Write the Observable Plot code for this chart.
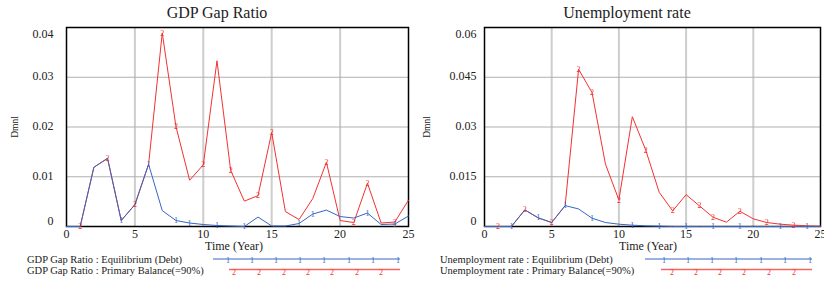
<!DOCTYPE html>
<html><head><meta charset="utf-8">
<script src="https://cdn.jsdelivr.net/npm/d3@7"></script>
<script src="https://cdn.jsdelivr.net/npm/@observablehq/plot@0.6"></script>
<style>
body{margin:0;background:#fff;}
#wrap{position:relative;width:824px;height:282px;overflow:hidden;font-family:"Liberation Serif",serif;}
#wrap svg, #wrap svg text, #wrap svg g { font-family: "Liberation Serif", serif !important; }
.panel{position:absolute;top:20px;}
#overlay{position:absolute;left:0;top:0;}
</style></head><body>
<div id="wrap"><div id="p1" class="panel" style="left:0"></div><div id="p2" class="panel" style="left:412px"></div><svg id="overlay" width="824" height="282"></svg></div>
<script>
const years = [0,1,2,3,4,5,6,7,8,9,10,11,12,13,14,15,16,17,18,19,20,21,22,23,24,25];
const xTicks = [0,5,10,15,20,25];

const gdpEquilibrium = [0,0,0.0119,0.0137,0.0012,0.0044,0.0125,0.0032,0.0012,0.0007,0.0004,0.0002,0.0001,0,0.0019,0.0001,0.0001,0.0006,0.0025,0.0033,0.0020,0.0017,0.0027,0.0004,0.0005,0.0021];
const gdpPrimary = [0,0,0.0119,0.0137,0.0012,0.0044,0.0125,0.0389,0.0201,0.0093,0.0124,0.0333,0.0113,0.0051,0.0062,0.0189,0.0030,0.0014,0.0056,0.0129,0.0012,0.0008,0.0087,0.0007,0.0009,0.0053];
const unEquilibrium = [0,0,0,0.0050,0.0026,0.0012,0.0063,0.0053,0.0025,0.0012,0.0007,0.0004,0.0002,0.0001,0,0,0,0,0,0,0,0,0,0,0,0];
const unPrimary = [0,0,0,0.0050,0.0026,0.0012,0.0063,0.0474,0.0404,0.0188,0.0080,0.0331,0.0230,0.0103,0.0047,0.0096,0.0062,0.0028,0.0013,0.0046,0.0023,0.0012,0.0007,0.0004,0.0002,0.0001];

const gdpEqMarkers = [4,6,8,9,11,13,17,18,22,24];
const gdpPbMarkers = [1,3,5,7,8,10,12,14,15,19,21,22,24];
const unEqMarkers = [2,4,6,8,11,13,15,17,19,22,24];
const unPbMarkers = [1,3,5,7,8,10,12,14,16,17,19,21,23];

const gdpYTicks = [0,0.01,0.02,0.03,0.04];
const gdpYLabels = ["0","0.01","0.02","0.03","0.04"];
const unYTicks = [0,0.015,0.03,0.045,0.06];
const unYLabels = ["0","0.015","0.03","0.045","0.06"];

const titles = ["GDP Gap Ratio","Unemployment rate"];
const xLabel = "Time (Year)";
const yUnit = "Dmnl";
const legendGdp = ["GDP Gap Ratio : Equilibrium (Debt)","GDP Gap Ratio : Primary Balance(=90%)"];
const legendUn = ["Unemployment rate : Equilibrium (Debt)","Unemployment rate : Primary Balance(=90%)"];

const BLUE = "#3566c4", RED = "#f53030", FONT = "Liberation Serif, serif";

function panel(el, yTicks, yLabels, eq, pb, eqM, pbM, marginLeft, labelPad) {
  const rows = years.map((t, i) => ({t, eq: eq[i], pb: pb[i]}));
  const ticks = yTicks.map((v, i) => ({v, label: yLabels[i], i}));
  const n = ticks.length - 1;
  const lab = (filter, dy) => Plot.text(ticks.filter(filter), {x: 0, y: "v", text: "label", textAnchor: "end", dx: -labelPad, dy, fontSize: 12, fontFamily: FONT, fill: "#222"});
  const chart = Plot.plot({
    width: 412, height: 232, marginTop: 7, marginBottom: 26, marginLeft, marginRight: 4,
    style: {background: "transparent", overflow: "visible", fontFamily: FONT, fontSize: "12px", color: "#222"},
    x: {domain: [0, 25], ticks: xTicks, tickSize: 0, tickPadding: 3, label: null, tickFormat: d => String(d)},
    y: {domain: [yTicks[0], yTicks[n]], axis: null},
    marks: [
      Plot.ruleX(xTicks.filter(d => d > 0 && d < 25), {stroke: "#cdcdcd", strokeWidth: 2}),
      Plot.ruleY(yTicks.filter((d, i) => i > 0 && i < n), {stroke: "#b0b0b0", strokeWidth: 1}),
      Plot.frame({stroke: "#000", strokeWidth: 1.5}),
      Plot.line(rows, {x: "t", y: "pb", stroke: RED, strokeWidth: 1}),
      Plot.line(rows, {x: "t", y: "eq", stroke: BLUE, strokeWidth: 1}),
      Plot.text(rows.filter(r => pbM.includes(r.t)), {x: "t", y: "pb", text: () => "2", fill: RED, fontSize: 8, fontFamily: FONT}),
      Plot.text(rows.filter(r => eqM.includes(r.t)), {x: "t", y: "eq", text: () => "1", fill: BLUE, fontSize: 8, fontFamily: FONT}),
      lab(d => d.i === 0, -5),
      lab(d => d.i > 0 && d.i < n, -1),
      lab(d => d.i === n, 7)
    ]
  });
  document.getElementById(el).appendChild(chart);
}

panel("p1", gdpYTicks, gdpYLabels, gdpEquilibrium, gdpPrimary, gdpEqMarkers, gdpPbMarkers, 66, 13);
panel("p2", unYTicks, unYLabels, unEquilibrium, unPrimary, unEqMarkers, unPbMarkers, 72, 8);

// overlay: titles, axis labels, legends
const svg = d3.select("#overlay");
function txt(x, y, s, size, anchor, extra) {
  const t = svg.append("text").attr("x", x).attr("y", y).attr("font-size", size).attr("font-family", FONT).attr("text-anchor", anchor || "start").attr("fill", "#222").text(s);
  if (extra) extra(t);
  return t;
}
txt(217, 18, titles[0], 16, "middle");
txt(627, 18, titles[1], 16, "middle");
txt(234, 250, xLabel, 12, "middle");
txt(648, 250, xLabel, 12, "middle");
txt(0, 0, yUnit, 9.5, "middle", t => t.attr("transform", "translate(18,127) rotate(-90)"));
txt(0, 0, yUnit, 9.5, "middle", t => t.attr("transform", "translate(430,127) rotate(-90)"));

function legend(x0, labels, blueLine, redLine) {
  txt(x0, 263, labels[0], 10.5, "start");
  txt(x0, 273.5, labels[1], 10.5, "start");
  svg.append("line").attr("x1", blueLine[0]).attr("x2", blueLine[1]).attr("y1", 259).attr("y2", 259).attr("stroke", BLUE).attr("stroke-width", 1.2);
  svg.append("line").attr("x1", redLine[0]).attr("x2", redLine[1]).attr("y1", 269.5).attr("y2", 269.5).attr("stroke", RED).attr("stroke-opacity", 0.75).attr("stroke-width", 1.6);
  blueLine[2].forEach(x => txt(x, 263, "1", 8, "middle", t => t.attr("fill", BLUE)));
  redLine[2].forEach(x => txt(x, 275, "2", 8, "middle", t => t.attr("fill", RED)));
}
legend(27, legendGdp, [213, 400, [228,252,276,300,324,349,373,398]], [229, 400, [234,259,284,308,332,357,381]]);
legend(440, legendUn, [645, 812, [664,688,712,736,761,785,810]], [661, 812, [672,696,720,744,769,794]]);
</script>
</body></html>
